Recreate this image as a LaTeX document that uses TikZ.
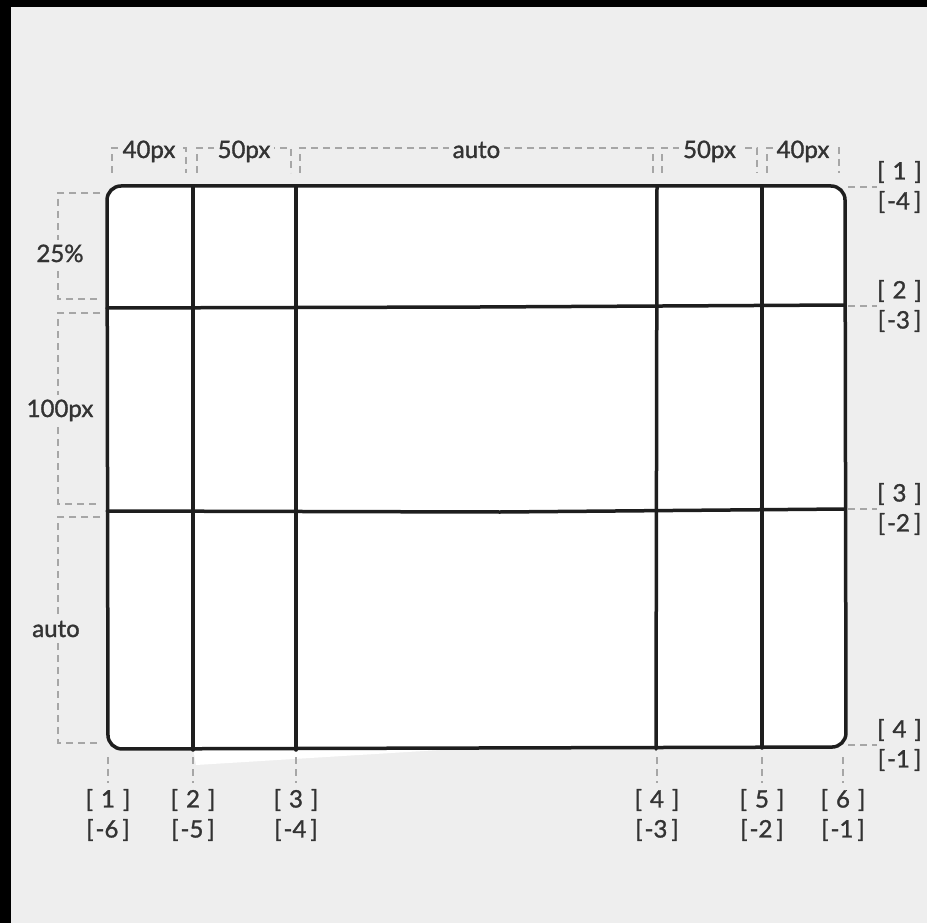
\documentclass[tikz,border=0pt]{standalone}
\usepackage{fontspec}
\setmainfont{Lato}
\newfontfamily\lblfont{Lato}[FakeBold=1.3]
\usepackage{xcolor}
\usetikzlibrary{positioning}

\definecolor{bgcol}{HTML}{EEEEEE}
\definecolor{inkcol}{HTML}{1E1E1E}
\definecolor{guidecol}{HTML}{A6A6A6}
\definecolor{txtcol}{HTML}{333333}

\newcommand{\posnum}[1]{[\hspace{8pt}#1\hspace{8pt}]}
\newcommand{\negnum}[1]{[\kern2pt#1\kern4pt]}

\begin{document}
\begin{tikzpicture}[x=1pt, y=-1pt,
      gridline/.style={draw=inkcol, line width=3.5pt, line cap=round},
      guide/.style={draw=guidecol, line width=1.3pt, dash pattern=on 7pt off 5pt},
      size/.style={font=\lblfont\fontsize{24}{28}\selectfont, text=txtcol, fill=bgcol,
                   inner xsep=4pt, inner ysep=1pt, anchor=base},
      idx/.style={font=\lblfont\fontsize{24}{30}\selectfont, text=txtcol, align=center,
                  inner sep=0pt}]
    % frame and page
    \fill[black] (0,0) rectangle (927,923);
    \fill[bgcol] (11,7) rectangle (927,923);
    \useasboundingbox (0,0) rectangle (927,923);

    % the grid, drawn a little by hand
    \fill[white] (193,748) -- (196,765) -- (440,750) -- cycle;
    \draw[gridline, fill=white, rounded corners=14pt]
      (107,186) -- (845,186) -- (846,747) -- (108,749) -- cycle;
    \draw[gridline] (193,186) -- (193,750);
    \draw[gridline] (296,186) -- (296,750);
    \draw[gridline] (657,186) -- (656,749);
    \draw[gridline] (762,186) -- (762,748);
    \draw[gridline] (107,308) -- (480,307) -- (845,305);
    \draw[gridline] (107,511) -- (500,512) -- (845,509);

    % column sizes on top
    \foreach \a/\b/\t [count=\i] in {112/186/40px, 197/291/50px, 300/653/auto,
                                     662/757/50px, 767/839/40px} {
      \draw[guide] (\a,173) -- (\a,148) -- (\b,148) -- (\b,173);
      \node[size] (csize\i) at ({(\a+\b)/2},158) {\t};
    }

    % row sizes on the left
    \foreach \a/\b/\t/\x/\y [count=\i] in {193/299/25\%/60/262, 313/504/100px/60/417,
                                           517/743/auto/56/637} {
      \draw[guide] (100,\a) -- (58,\a) -- (58,\b) -- (100,\b);
      \node[size, inner ysep=5pt] (rsize\i) at (\x,\y) {\t};
    }

    % row line numbers on the right
    \foreach \y/\p/\n [count=\i] in {187/1/-4, 306/2/-3, 509/3/-2, 745/4/-1} {
      \coordinate (rline\i) at (848,\y);
      \node[idx, anchor=west] (rnum\i) at (877,\y) {\posnum{\p}\\\negnum{\n}};
      \draw[guide] (rline\i) -- (rnum\i.west);
    }

    % column line numbers below
    \foreach \x/\p/\n [count=\i] in {108/1/-6, 193/2/-5, 296/3/-4,
                                     657/4/-3, 762/5/-2, 843/6/-1} {
      \coordinate (cline\i) at (\x,757);
      \node[idx] (cnum\i) at (\x,815) {\posnum{\p}\\\negnum{\n}};
      \draw[guide] (cline\i) -- (\x,783);
    }
  \end{tikzpicture}
\end{document}
